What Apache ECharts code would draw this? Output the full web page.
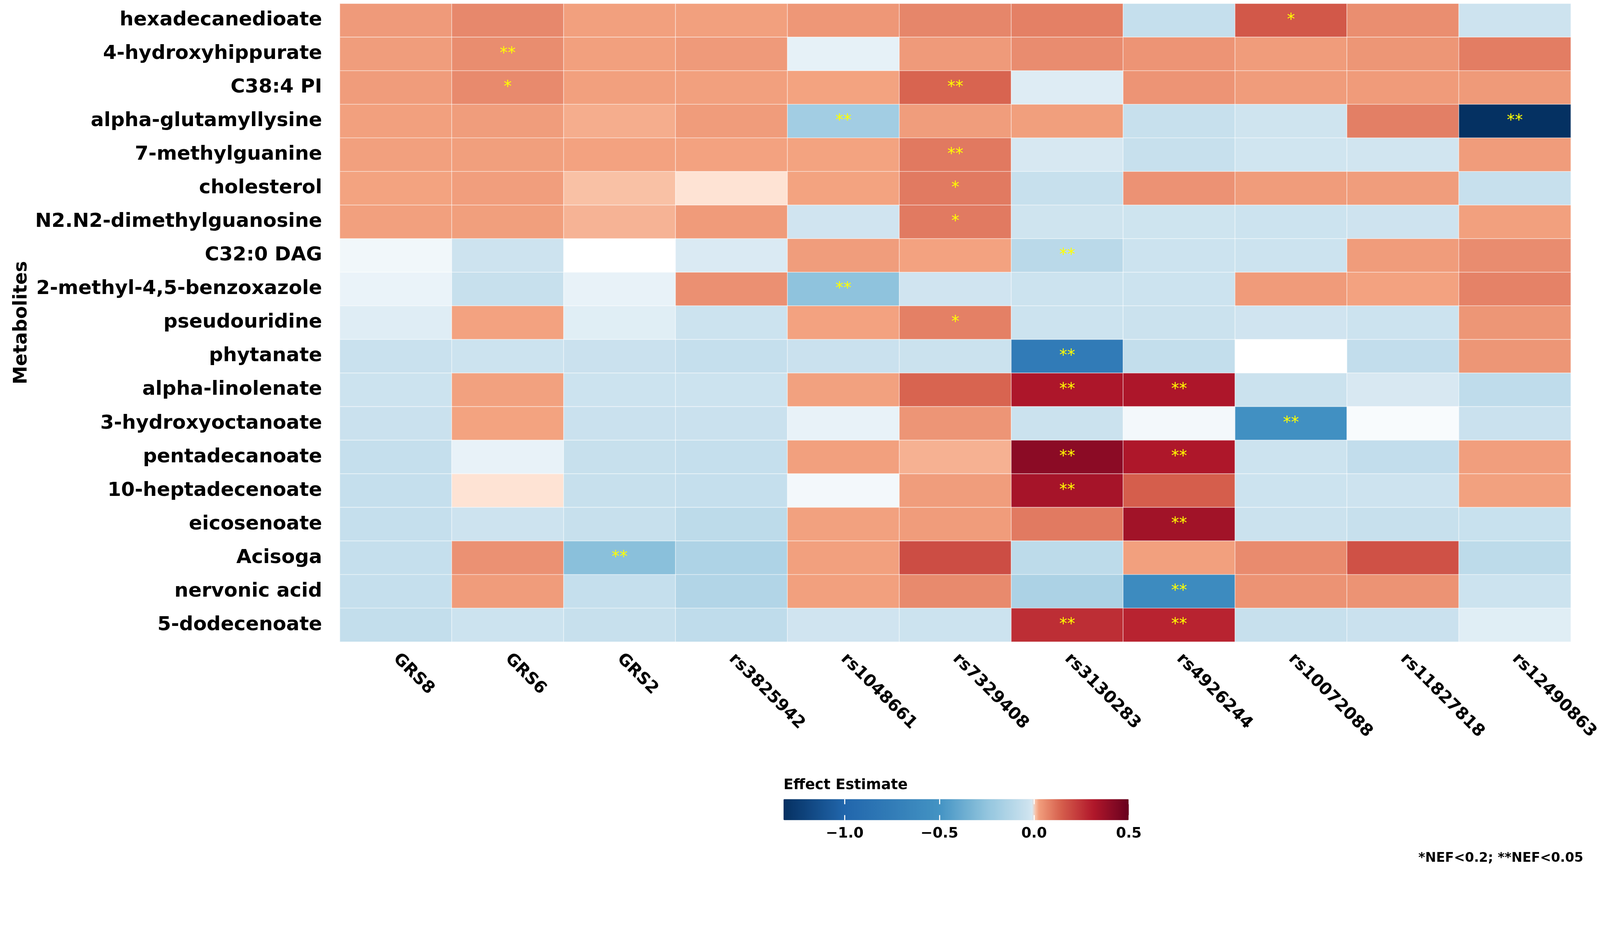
<!DOCTYPE html>
<html>
<head>
<meta charset="utf-8">
<script src="https://cdn.jsdelivr.net/npm/echarts@6/dist/echarts.min.js"></script>
<style>
html,body{margin:0;padding:0;background:#fff;overflow:hidden}
#main{width:100vw;height:100vh}
</style>
</head>
<body>
<div id="main"></div>
<script>
var metabolites = ['hexadecanedioate','4-hydroxyhippurate','C38:4 PI','alpha-glutamyllysine','7-methylguanine',
	'cholesterol','N2.N2-dimethylguanosine','C32:0 DAG','2-methyl-4,5-benzoxazole','pseudouridine','phytanate',
	'alpha-linolenate','3-hydroxyoctanoate','pentadecanoate','10-heptadecenoate','eicosenoate','Acisoga',
	'nervonic acid','5-dodecenoate'];
var variants = ['GRS8','GRS6','GRS2','rs3825942','rs1048661','rs7329408','rs3130283','rs4926244','rs10072088','rs11827818','rs12490863'];

//effect estimate, one row per metabolite, columns follow variants
var effects = [
	[0.032, 0.066, 0.021, 0.021, 0.038, 0.070, 0.081, -0.057, 0.159, 0.055, -0.027],
	[0.027, 0.057, 0.021, 0.032, -0.0065, 0.032, 0.058, 0.044, 0.029, 0.040, 0.086],
	[0.029, 0.062, 0.021, 0.021, 0.016, 0.133, -0.0088, 0.044, 0.029, 0.031, 0.033],
	[0.021, 0.027, 0.0108, 0.029, -0.19, 0.027, 0.023, -0.05, -0.02, 0.083, -1.32],
	[0.021, 0.023, 0.018, 0.018, 0.016, 0.094, -0.0106, -0.05, -0.015, -0.012, 0.029],
	[0.016, 0.025, 0.0079, 0.0031, 0.016, 0.092, -0.05, 0.047, 0.029, 0.027, -0.05],
	[0.021, 0.023, 0.0098, 0.031, -0.016, 0.092, -0.02, -0.022, -0.03, -0.025, 0.021],
	[-0.0037, -0.027, 0, -0.0097, 0.027, 0.018, -0.10, -0.03, -0.03, 0.029, 0.058],
	[-0.0055, -0.05, -0.006, 0.051, -0.26, -0.017, -0.03, -0.03, 0.031, 0.018, 0.077],
	[-0.0083, 0.018, -0.008, -0.03, 0.018, 0.081, -0.03, -0.035, -0.017, -0.03, 0.040],
	[-0.042, -0.03, -0.04, -0.057, -0.04, -0.035, -0.77, -0.064, 0, -0.07, 0.040],
	[-0.03, 0.019, -0.03, -0.03, 0.019, 0.133, 0.323, 0.323, -0.035, -0.0103, -0.079],
	[-0.04, 0.016, -0.04, -0.04, -0.006, 0.042, -0.035, -0.0032, -0.53, -0.0018, -0.04],
	[-0.057, -0.006, -0.05, -0.057, 0.021, 0.0101, 0.409, 0.32, -0.03, -0.07, 0.025],
	[-0.057, 0.0031, -0.05, -0.057, -0.0032, 0.027, 0.34, 0.145, -0.03, -0.027, 0.019],
	[-0.057, -0.027, -0.05, -0.086, 0.019, 0.029, 0.092, 0.353, -0.035, -0.05, -0.045],
	[-0.057, 0.049, -0.275, -0.146, 0.021, 0.185, -0.086, 0.021, 0.06, 0.175, -0.086],
	[-0.057, 0.029, -0.057, -0.13, 0.021, 0.062, -0.153, -0.59, 0.045, 0.045, -0.03],
	[-0.064, -0.03, -0.05, -0.08, -0.016, -0.03, 0.258, 0.284, -0.05, -0.04, -0.008]
];

//significance marks (*NEF<0.2, **NEF<0.05)
var marks = [
	['','','','','','','','','*','',''],
	['','**','','','','','','','','',''],
	['','*','','','','**','','','','',''],
	['','','','','**','','','','','','**'],
	['','','','','','**','','','','',''],
	['','','','','','*','','','','',''],
	['','','','','','*','','','','',''],
	['','','','','','','**','','','',''],
	['','','','','**','','','','','',''],
	['','','','','','*','','','','',''],
	['','','','','','','**','','','',''],
	['','','','','','','**','**','','',''],
	['','','','','','','','','**','',''],
	['','','','','','','**','**','','',''],
	['','','','','','','**','','','',''],
	['','','','','','','','**','','',''],
	['','','**','','','','','','','',''],
	['','','','','','','','**','','',''],
	['','','','','','','**','**','','','']
];

var effectMin = -1.323;
var effectMax = 0.5;
var barTicks = [-1.0, -0.5, 0.0, 0.5];

//colour anchors of the scale: blue half, then jump to salmon/red at 0
var anchors = [
	[-1.323, '#053061'], [-1.0, '#2166ac'], [-0.5, '#4393c3'], [-0.25, '#92c5de'],
	[-0.012, '#d1e5f0'], [0, '#ffffff'], [0.004, '#fddbc7'], [0.012, '#f4a582'],
	[0.14, '#d6604d'], [0.31, '#b2182b'], [0.5, '#67001f']
];

function hexRgb(h){
	return [parseInt(h.substr(1,2),16), parseInt(h.substr(3,2),16), parseInt(h.substr(5,2),16)];
}

function colorAt(v){
	for(var i=1;i<anchors.length;i++){
		if(v <= anchors[i][0] || i == anchors.length-1){
			var a = anchors[i-1], b = anchors[i];
			var t = (v - a[0]) / (b[0] - a[0]);
			t = Math.max(0, Math.min(1, t));
			var ca = hexRgb(a[1]), cb = hexRgb(b[1]);
			return 'rgb(' + Math.round(ca[0]+(cb[0]-ca[0])*t) + ',' + Math.round(ca[1]+(cb[1]-ca[1])*t) + ',' + Math.round(ca[2]+(cb[2]-ca[2])*t) + ')';
		}
	}
}

//dense colour list so visualMap keeps the sharp change around 0
function buildPalette(){
	var list = [];
	var n = Math.round((effectMax - effectMin) / 0.001);
	for(var i=0;i<=n;i++){
		list.push(colorAt(effectMin + (effectMax - effectMin) * i / n));
	}
	return list;
}

function fmtTick(v){
	return (v < 0 ? '\u2212' : '') + Math.abs(v).toFixed(1);
}

//layout is measured on a 4411 x 2415 page, scale to the real window
var k = Math.min(window.innerWidth / 4411, window.innerHeight / 2415);
function px(v){ return v * k; }

var cells = [];
for(var r=0;r<metabolites.length;r++){
	for(var c=0;c<variants.length;c++){
		cells.push([c, r, effects[r][c]]);
	}
}

var font = 'DejaVu Sans';
var myChart = echarts.init(document.getElementById('main'));
var option = {
	animation: false,
	backgroundColor: '#ffffff',
	textStyle: {fontFamily: font},
	title: [
		{text: 'Effect Estimate', left: px(2160), top: px(2146), padding: 0,
			textStyle: {fontSize: px(40), fontWeight: 'bold', color: '#000', fontFamily: font}},
		{text: '*NEF<0.2; **NEF<0.05', right: px(46), top: px(2350), padding: 0,
			textStyle: {fontSize: px(36), fontWeight: 'bold', color: '#000', fontFamily: font}}
	],
	grid: [
		{left: px(937), top: px(10), width: px(3399), height: px(1760)},
		{left: px(2160), top: px(2204), width: px(952), height: px(58)}
	],
	xAxis: [
		{type: 'category', gridIndex: 0, data: variants,
			axisLine: {show: false}, axisTick: {show: false}, splitLine: {show: false},
			axisLabel: {rotate: -45, interval: 0, margin: px(40), fontSize: px(46), fontWeight: 'bold', color: '#000', fontFamily: font}},
		{type: 'value', gridIndex: 1, min: effectMin, max: effectMax, z: 10,
			axisLine: {show: false}, splitLine: {show: false},
			axisTick: {show: true, inside: true, length: px(14), customValues: barTicks, lineStyle: {color: '#fff', width: px(3)}},
			axisLabel: {customValues: barTicks, margin: px(18), fontSize: px(40), fontWeight: 'bold', color: '#000', fontFamily: font, formatter: fmtTick}},
		{type: 'value', gridIndex: 1, position: 'top', min: effectMin, max: effectMax, z: 10,
			axisLine: {show: false}, splitLine: {show: false}, axisLabel: {show: false},
			axisTick: {show: true, inside: true, length: px(14), customValues: barTicks, lineStyle: {color: '#fff', width: px(3)}}}
	],
	yAxis: [
		{type: 'category', gridIndex: 0, data: metabolites, inverse: true,
			axisLine: {show: false}, axisTick: {show: false}, splitLine: {show: false},
			axisLabel: {fontSize: px(54), fontWeight: 'bold', color: '#000', margin: px(49), fontFamily: font},
			name: 'Metabolites', nameLocation: 'middle', nameRotate: 90, nameGap: px(850),
			nameTextStyle: {fontSize: px(51), fontWeight: 'bold', color: '#000', fontFamily: font}},
		{type: 'value', gridIndex: 1, show: false}
	],
	visualMap: {
		type: 'continuous', seriesIndex: 0, dimension: 2,
		min: effectMin, max: effectMax,
		orient: 'horizontal', left: px(2160), top: px(2204), padding: 0,
		itemWidth: px(58), itemHeight: px(952),
		calculable: false, hoverLink: false,
		inRange: {color: buildPalette()}
	},
	series: [{
		type: 'heatmap', xAxisIndex: 0, yAxisIndex: 0, data: cells,
		itemStyle: {borderColor: 'rgba(255,255,255,0.55)', borderWidth: px(2)},
		label: {show: true, color: '#ffff00', fontSize: px(44), fontFamily: font,
			formatter: function(p){ return marks[p.data[1]][p.data[0]]; }},
		emphasis: {disabled: true}
	}]
};
myChart.setOption(option);
</script>
</body>
</html>
